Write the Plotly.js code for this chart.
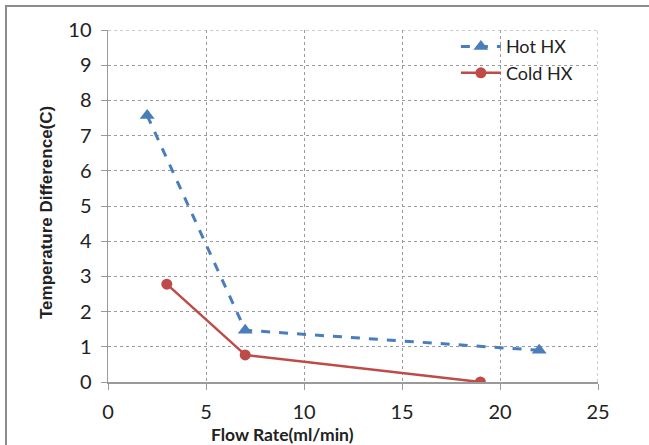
<!DOCTYPE html>
<html><head><meta charset="utf-8">
<script src="https://cdn.plot.ly/plotly-3.0.1.min.js"></script>
<style>
html,body{margin:0;padding:0;background:#fff;overflow:hidden;}
#frame{position:absolute;left:5px;top:5px;width:660px;height:460px;border-left:2px solid #8c8c8c;border-top:2px solid #8c8c8c;}
#chart{position:absolute;left:0;top:0;width:649px;height:445px;}
</style></head>
<body>
<div id="frame"></div>
<div id="chart"></div>
<script>
var hotX = [2, 7, 22];
var hotY = [7.57, 1.47, 0.9];
var coldX = [3, 7, 19];
var coldY = [2.78, 0.77, 0.0];
var seriesNames = ["Hot HX", "Cold HX"];
var xTicks = [0, 5, 10, 15, 20, 25];
var yTicks = [0,1,2,3,4,5,6,7,8,9,10];
var xTitle = "Flow Rate(ml/min)";
var yTitle = "Temperature Difference(C)";

var font = "Lato, 'Open Sans', sans-serif";
var traces = [
  {x: hotX, y: hotY, name: seriesNames[0], mode: "lines+markers", type: "scatter",
   line: {color: "#4A7EBB", width: 3, dash: "dash"},
   marker: {symbol: "triangle-up", size: 13, color: "#4A7EBB"}},
  {x: coldX, y: coldY, name: seriesNames[1], mode: "lines+markers", type: "scatter",
   line: {color: "#BE4B48", width: 2.5},
   marker: {symbol: "circle", size: 11, color: "#BE4B48"}}
];
var layout = {
  width: 649, height: 445,
  margin: {l: 108, r: 51, t: 30, b: 63},
  paper_bgcolor: "rgba(0,0,0,0)", plot_bgcolor: "rgba(0,0,0,0)",
  showlegend: true,
  legend: {x: 0.71, y: 1.005, xanchor: "left", yanchor: "top", bgcolor: "rgba(0,0,0,0)",
           font: {family: font, size: 18, color: "#222"}, tracegroupgap: 0, itemwidth: 40},
  xaxis: {range: [0, 25], tickvals: xTicks, ticktext: xTicks.map(String),
          showgrid: true, gridcolor: "#9a9a9a", griddash: "dot", gridwidth: 1,
          showline: true, linecolor: "#9a9a9a", linewidth: 1.5,
          ticks: "outside", ticklen: 6, tickcolor: "#9a9a9a", zeroline: false,
          ticklabelstandoff: 5,
          tickfont: {family: font, size: 20, color: "#222"}},
  yaxis: {range: [0, 10], tickvals: yTicks, ticktext: yTicks.map(String),
          showgrid: true, gridcolor: "#9a9a9a", griddash: "dot", gridwidth: 1,
          showline: true, linecolor: "#9a9a9a", linewidth: 1.5,
          ticks: "outside", ticklen: 6, tickcolor: "#9a9a9a", zeroline: false,
          ticklabelstandoff: 5,
          tickfont: {family: font, size: 20, color: "#222"}},
  annotations: [
    {text: "<b>" + xTitle + "</b>", xref: "paper", yref: "paper", x: (282-108)/490, y: -(434-382)/352,
     xanchor: "center", yanchor: "middle", showarrow: false,
     font: {family: font, size: 17.5, color: "#222"}},
    {text: "<b>" + yTitle + "</b>", xref: "paper", yref: "paper", x: -(108-46)/490, y: (382-213)/352,
     xanchor: "center", yanchor: "middle", showarrow: false, textangle: -90,
     font: {family: "'Liberation Sans', Arial, sans-serif", size: 17, color: "#222"}}
  ],
  shapes: [
    {type: "line", xref: "x", yref: "y", x0: 25, x1: 25, y0: 0, y1: 10, line: {color: "#9a9a9a", width: 1, dash: "dot"}},
    {type: "line", xref: "x", yref: "y", x0: 0, x1: 25, y0: 10, y1: 10, line: {color: "#9a9a9a", width: 1, dash: "dot"}}
  ]
};
Plotly.newPlot("chart", traces, layout, {displayModeBar: false, staticPlot: true});
</script>
</body></html>
